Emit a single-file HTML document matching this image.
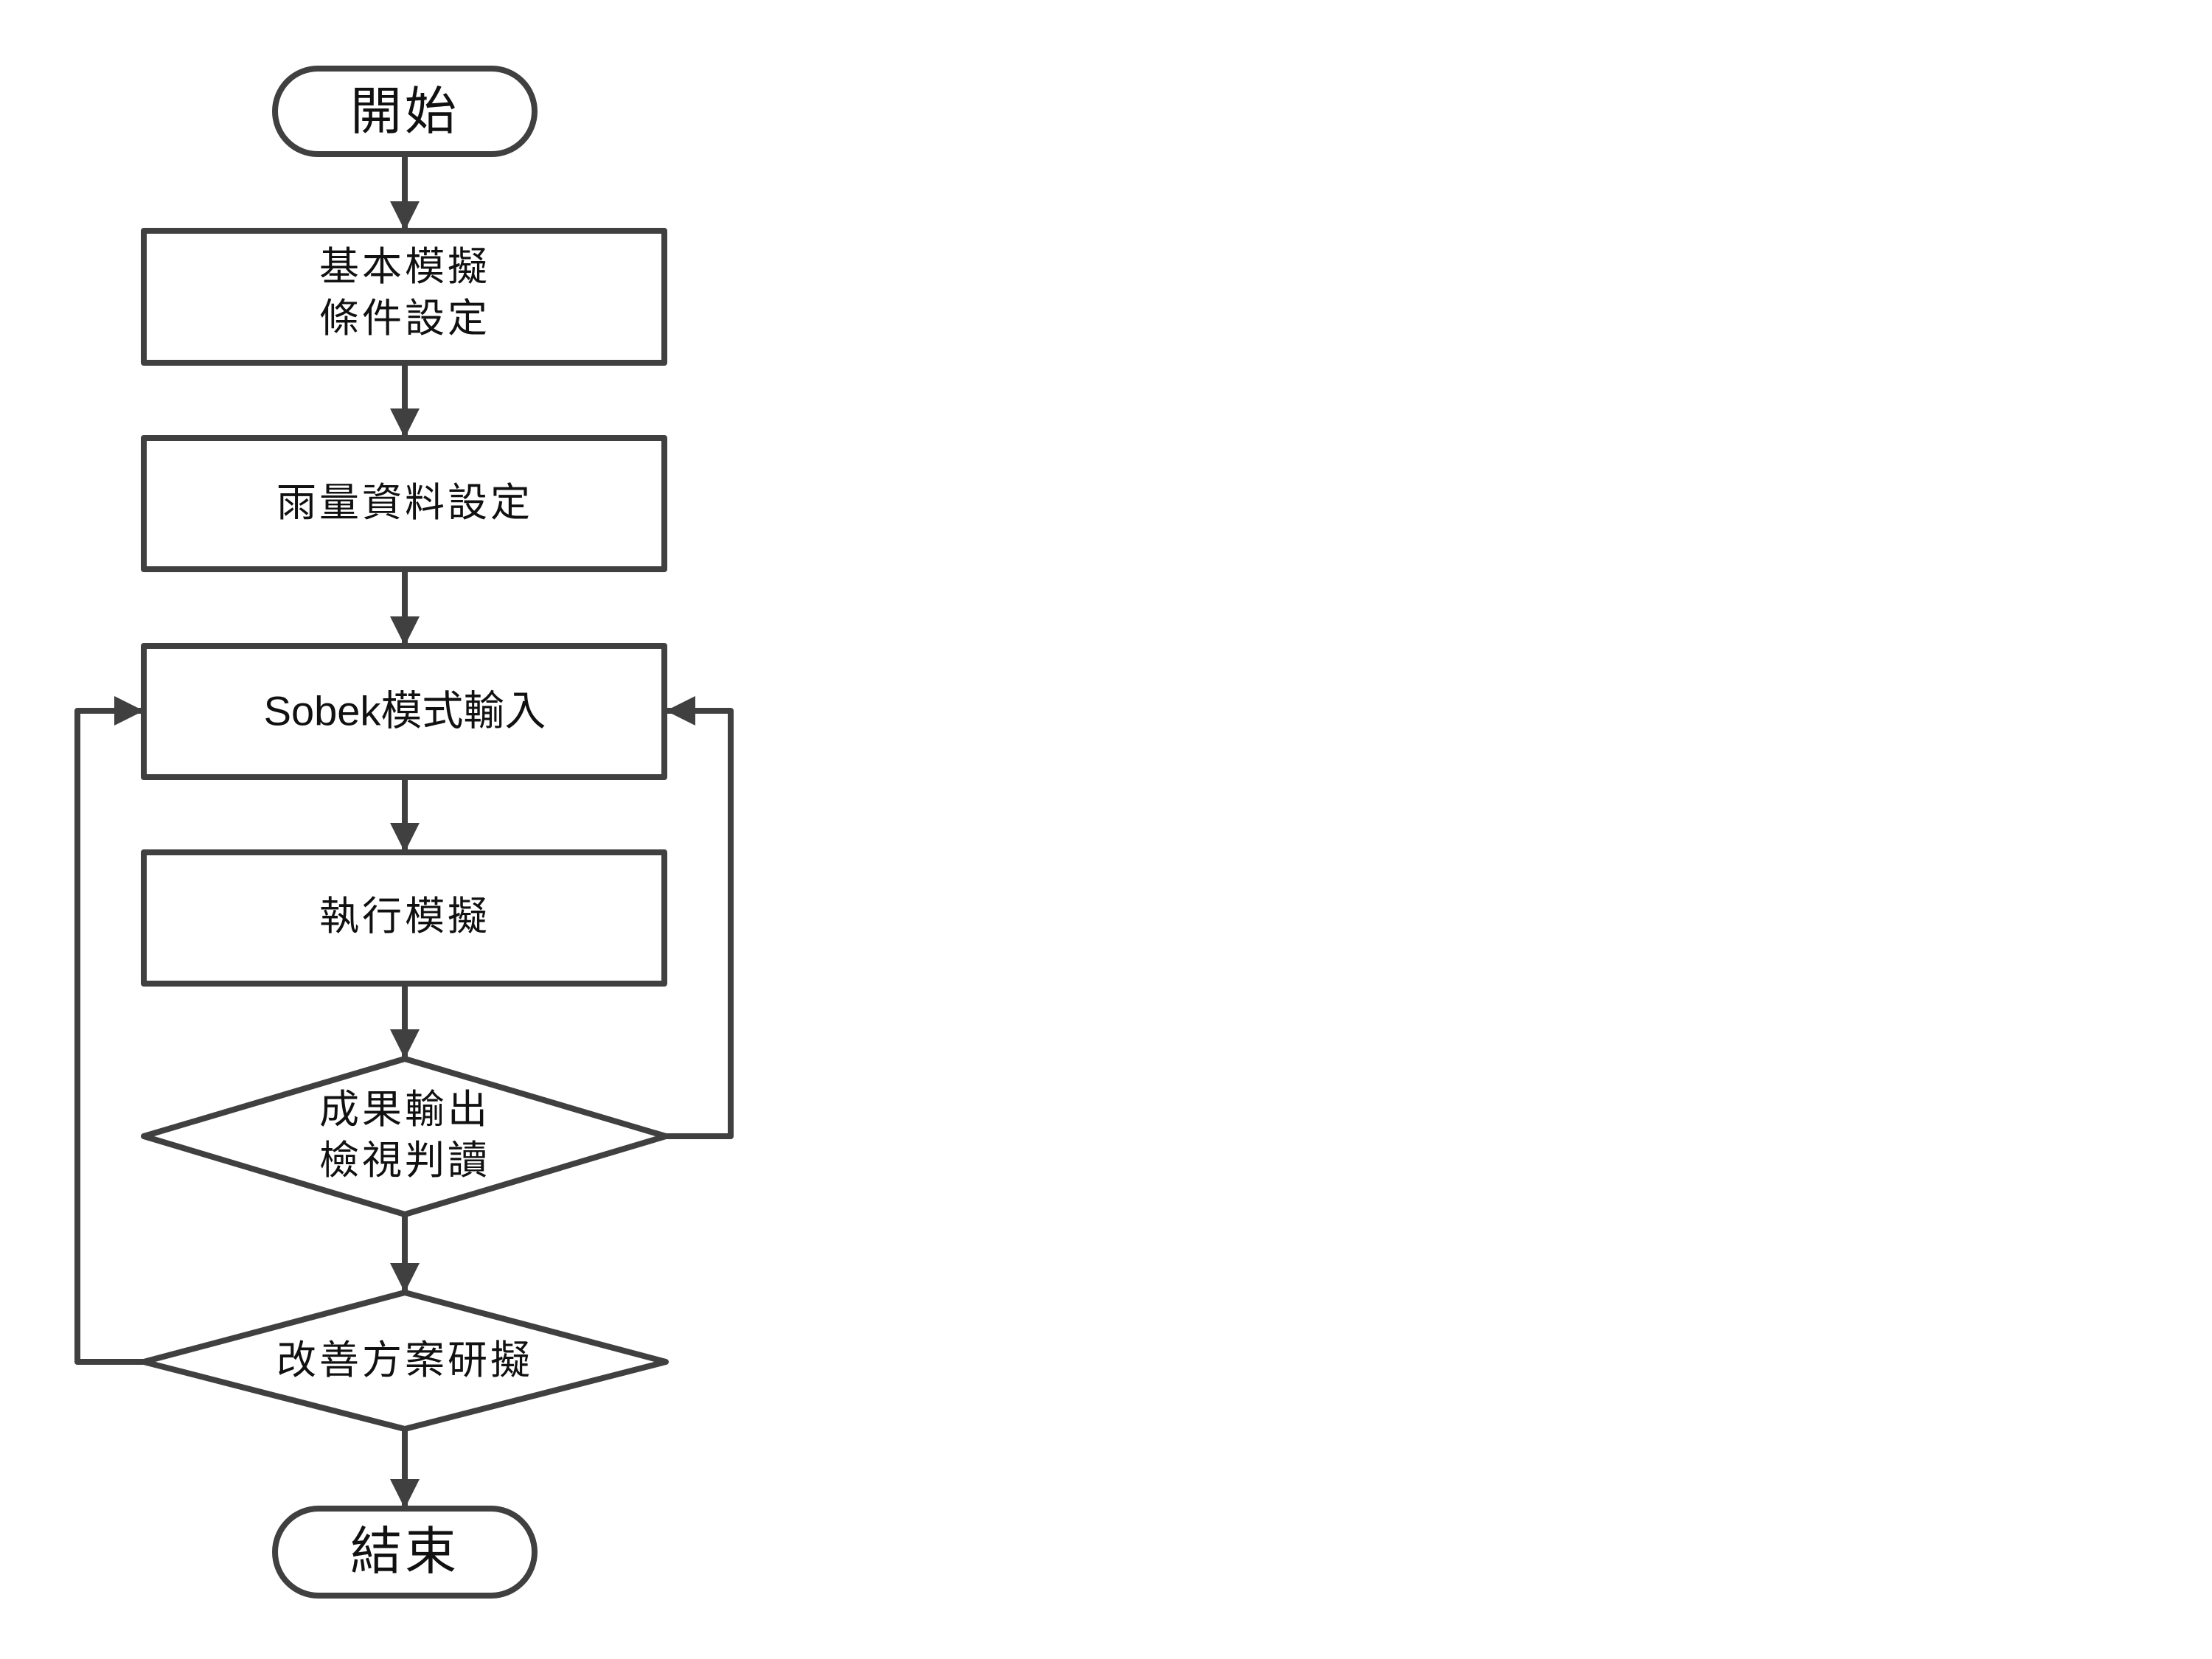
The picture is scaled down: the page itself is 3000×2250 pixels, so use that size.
<!DOCTYPE html>
<html><head><meta charset="utf-8"><style>
html,body{margin:0;padding:0;background:#fff;}
svg{display:block;}
text{font-family:"Liberation Sans","Noto Sans CJK TC",sans-serif;fill:#111;text-anchor:middle;dominant-baseline:central;}
</style></head><body>
<svg width="3000" height="2250" viewBox="0 0 3000 2250" xmlns="http://www.w3.org/2000/svg">
<defs>
<marker id="a" markerUnits="userSpaceOnUse" markerWidth="40" markerHeight="44" refX="40" refY="20" orient="auto">
<path d="M0,0 L40,20 L0,40 Z" fill="#404040"/>
</marker>
</defs>
<g fill="none" stroke="#404040" stroke-width="8" stroke-linejoin="round">
<rect x="373" y="93" width="352" height="116" rx="58"/>
<rect x="195" y="313" width="706" height="179"/>
<rect x="195" y="594" width="706" height="178"/>
<rect x="195" y="876" width="706" height="178"/>
<rect x="195" y="1156" width="706" height="178"/>
<path d="M195,1541 L549,1436 L903,1541 L549,1647 Z"/>
<path d="M195,1847 L549,1753 L903,1847 L549,1938 Z"/>
<rect x="373" y="2046" width="352" height="118" rx="59"/>
<line x1="549" y1="209" x2="549" y2="313" marker-end="url(#a)"/>
<line x1="549" y1="492" x2="549" y2="594" marker-end="url(#a)"/>
<line x1="549" y1="772" x2="549" y2="876" marker-end="url(#a)"/>
<line x1="549" y1="1054" x2="549" y2="1156" marker-end="url(#a)"/>
<line x1="549" y1="1334" x2="549" y2="1436" marker-end="url(#a)"/>
<line x1="549" y1="1647" x2="549" y2="1753" marker-end="url(#a)"/>
<line x1="549" y1="1938" x2="549" y2="2046" marker-end="url(#a)"/>
<polyline points="903,1541 991,1541 991,964 903,964" marker-end="url(#a)"/>
<polyline points="195,1847 105,1847 105,964 195,964" marker-end="url(#a)"/>
</g>
<text x="549" y="151" font-size="70" letter-spacing="4">開始</text>
<text x="549" y="362" font-size="54" letter-spacing="4">基本模擬</text>
<text x="549" y="432" font-size="54" letter-spacing="4">條件設定</text>
<text x="549" y="682" font-size="54" letter-spacing="4">雨量資料設定</text>
<text x="549" y="964" font-size="56">Sobek模式輸入</text>
<text x="549" y="1243" font-size="54" letter-spacing="4">執行模擬</text>
<text x="549" y="1505" font-size="54" letter-spacing="4">成果輸出</text>
<text x="549" y="1574" font-size="54" letter-spacing="4">檢視判讀</text>
<text x="549" y="1845" font-size="54" letter-spacing="4">改善方案研擬</text>
<text x="549" y="2104" font-size="70" letter-spacing="4">結束</text>
</svg>
</body></html>
